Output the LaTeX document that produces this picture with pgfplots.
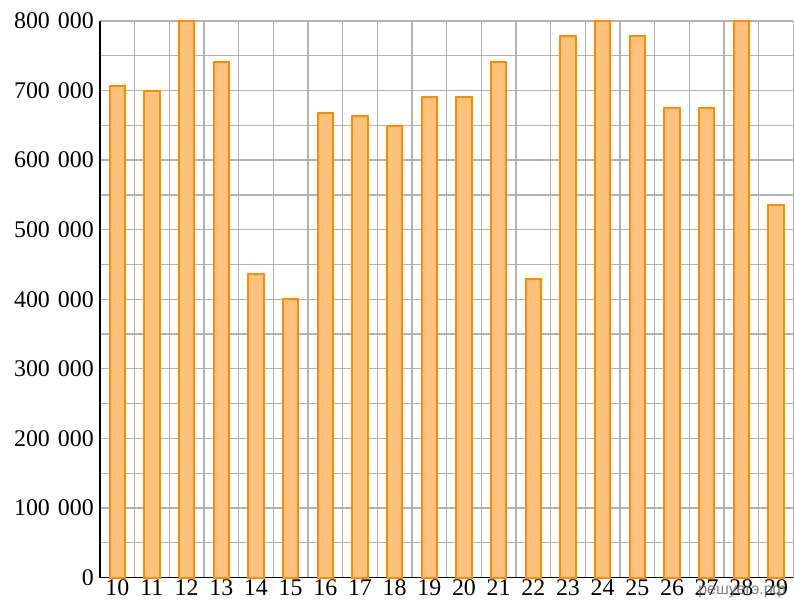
\documentclass[border=0pt]{standalone}
\usepackage{pgfplots}
\pgfplotsset{compat=1.18}
\usepackage{fontspec}
\setmainfont{Liberation Serif}
\newfontfamily\wmfont{Liberation Sans}
\definecolor{baredge}{RGB}{255,140,0}
\definecolor{barfill}{RGB}{255,194,125}
\definecolor{gridc}{RGB}{178,178,178}
\begin{document}
\begin{tikzpicture}
\begin{axis}[
  scale only axis,
  width=694bp, height=557bp,
  xmin=-0.5, xmax=19.5,
  ymin=0, ymax=800000,
  axis x line*=bottom, axis y line*=left,
  axis line style={black, line width=1.3bp},
  xtick={0,...,19},
  xticklabels={10,11,12,13,14,15,16,17,18,19,20,21,22,23,24,25,26,27,28,29},
  minor xtick={-0.5,0.5,...,19.5},
  ytick={0,100000,200000,300000,400000,500000,600000,700000,800000},
  yticklabels={0,100\,\,000,200\,\,000,300\,\,000,400\,\,000,500\,\,000,600\,\,000,700\,\,000,800\,\,000},
  minor ytick={50000,150000,250000,350000,450000,550000,650000,750000},
  xmajorgrids=false, xminorgrids=true,
  ymajorgrids=true, yminorgrids=true,
  major grid style={gridc, line width=1.3bp},
  minor grid style={gridc, line width=1.3bp},
  major tick length=0pt, minor tick length=0pt,
  scaled y ticks=false,
  yticklabel style={font=\fontsize{24}{28}\selectfont, inner sep=0bp, xshift=-6bp},
  xticklabel style={font=\fontsize{24}{28}\selectfont, inner sep=1bp, yshift=-1bp},
  clip=false,
]
\addplot[ybar, bar width=15.5bp, draw=baredge, fill=barfill, line width=2bp]
coordinates {
(0,707000) (1,700000) (2,800000) (3,741000) (4,437000)
(5,400000) (6,667000) (7,663000) (8,649000) (9,690000)
(10,690000) (11,741000) (12,429000) (13,779000) (14,800000)
(15,779000) (16,675000) (17,675000) (18,800000) (19,536000)
};
\end{axis}
\node[anchor=east, text={rgb,255:red,110;green,110;blue,110}, opacity=0.85, font=\wmfont\fontsize{16}{18}\selectfont] at ([xshift=-4bp,yshift=-13bp]current axis.south east) {решуегэ.рф};
\path ([xshift=-100bp,yshift=-30bp]current axis.south west) rectangle ([yshift=21bp]current axis.north east);
\end{tikzpicture}
\end{document}
